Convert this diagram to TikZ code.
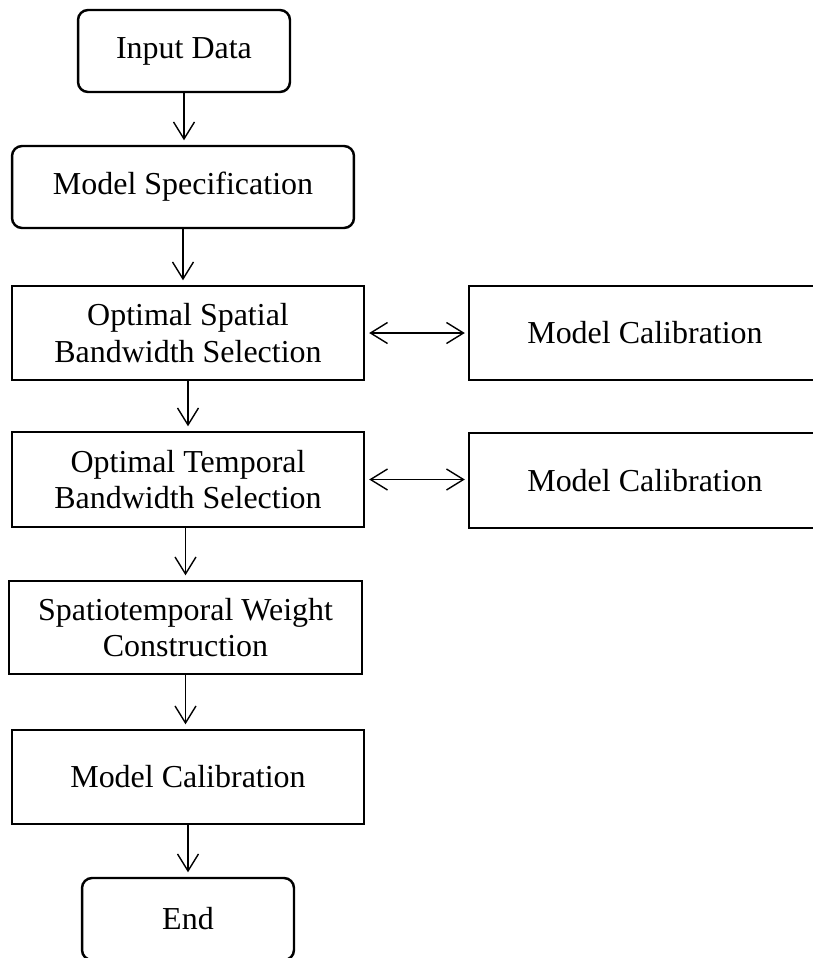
\documentclass[tikz,border=0pt]{standalone}
\usepackage{fontspec}
\setmainfont{Liberation Serif}
\usetikzlibrary{arrows.meta}

\tikzset{
  boxtext/.style={align=center, inner sep=0pt, line width=1.4pt, font=\fontsize{18.2}{20.6}\selectfont},
  terminal/.style={draw, boxtext, rounded corners=0.2cm},
  process/.style={draw, boxtext},
  flow/.style={-{Straight Barb[length=3.4mm,width=4.2mm]}, line width=0.8pt, shorten >=0.09cm},
  twoway/.style={{Straight Barb[length=3.4mm,width=4.2mm]}-{Straight Barb[length=3.4mm,width=4.2mm]}, line width=0.8pt, shorten <=0.08cm, shorten >=0.06cm}
}

\begin{document}
\begin{tikzpicture}[x=0.02cm,y=-0.02cm]
\useasboundingbox (0,0) rectangle (813,958);
\clip (0,0) rectangle (813,958);

\node[terminal, minimum width=4.24cm, minimum height=1.64cm] (input) at (184,51) {Input Data};
\node[terminal, minimum width=6.84cm, minimum height=1.64cm] (spec) at (183,187) {Model Specification};

\node[process, minimum width=7.04cm, minimum height=1.88cm] (spatial) at (188,333) {Optimal Spatial\\Bandwidth Selection};
\node[process, minimum width=7.04cm, minimum height=1.88cm] (calib1) at (645,333) {Model Calibration};

\node[process, minimum width=7.04cm, minimum height=1.9cm] (temporal) at (188,479.5) {Optimal Temporal\\Bandwidth Selection};
\node[process, minimum width=7.04cm, minimum height=1.9cm] (calib2) at (645,480.5) {Model Calibration};

\node[process, minimum width=7.06cm, minimum height=1.86cm] (weight) at (185.5,627.5) {Spatiotemporal Weight\\Construction};
\node[process, minimum width=7.04cm, minimum height=1.88cm] (calib3) at (188,777) {Model Calibration};
\node[terminal, minimum width=4.24cm, minimum height=1.64cm] (end) at (188,919) {End};

\draw[flow] (input.south) -- (input.south |- spec.north);
\draw[flow] (spec.south) -- (spec.south |- spatial.north);
\draw[flow] (spatial.south) -- (spatial.south |- temporal.north);
\draw[flow] (temporal.south -| weight.south) -- (weight.north);
\draw[flow] (weight.south) -- (weight.south |- calib3.north);
\draw[flow] (calib3.south) -- (calib3.south |- end.north);

\draw[twoway] (spatial.east) -- (spatial.east -| calib1.west);
\draw[twoway] (temporal.east) -- (temporal.east -| calib2.west);
\end{tikzpicture}
\end{document}
